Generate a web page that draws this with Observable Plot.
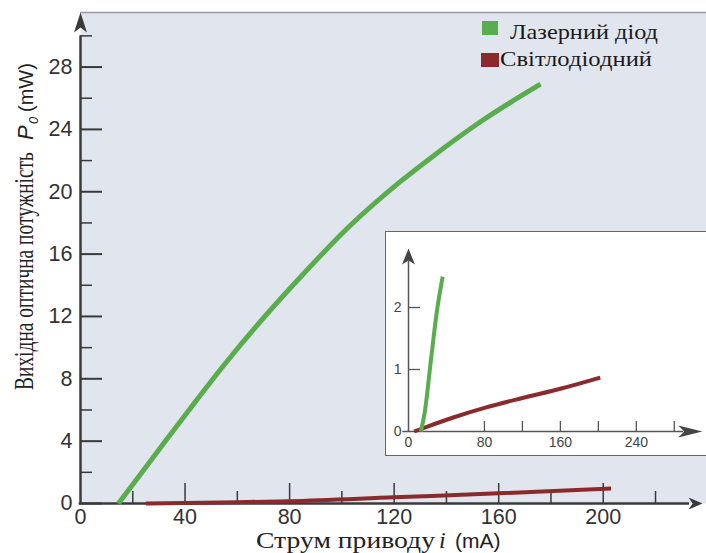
<!DOCTYPE html>
<html><head><meta charset="utf-8">
<script src="https://cdn.jsdelivr.net/npm/d3@7"></script>
<script src="https://cdn.jsdelivr.net/npm/@observablehq/plot@0.6"></script>
<style>
html,body{margin:0;padding:0;background:#fff;}
#wrap{position:relative;width:706px;height:553px;overflow:hidden;}
#wrap svg{display:block;}
</style></head><body><div id="wrap"></div>
<script>
// ---- data ----
const mainXTicks = [0, 40, 80, 120, 160, 200];
const mainXMinor = [20, 60, 100, 140, 180, 220];
const mainYTicks = [0, 4, 8, 12, 16, 20, 24, 28];
const mainYMinor = [2, 6, 10, 14, 18, 22, 26, 30];

const laserCurrent = [14.5, 30, 42, 55, 70, 84, 103, 122, 135, 154, 176];
const laserPower   = [0, 3.45, 6.1, 8.9, 11.9, 14.5, 17.8, 20.6, 22.3, 24.6, 26.9];
const ledCurrent = [25, 40, 60, 80, 120, 160, 203];
const ledPower   = [0, 0.03, 0.08, 0.15, 0.4, 0.65, 0.97];

const insetXLabels = [0, 80, 160, 240];
const insetXTicks = [80, 120, 160, 200, 240, 280];
const insetYTicks = [0, 1, 2];
const insetLaserCurrent = [13, 17, 24, 30, 36];
const insetLaserPower   = [0, 0.3, 1.2, 1.95, 2.5];
const insetLedCurrent = [6, 20, 48, 80, 120, 160, 202];
const insetLedPower   = [0, 0.08, 0.23, 0.38, 0.54, 0.69, 0.87];

const legendLabels = ["Лазерний діод", "Світлодіодний"];
const yTitle = "Вихідна оптична потужність";
const xTitle = "Струм приводу";

// ---- style ----
const green = "#5aad4e", red = "#8b2a2d", axisColor = "#3a3a3a";
const serif = "Liberation Serif, Times New Roman, serif";
const sans = "Liberation Sans, Arial, sans-serif";

const toPts = (xs, ys) => xs.map((x, i) => ({x, y: ys[i]}));
const laser = toPts(laserCurrent, laserPower);
const led = toPts(ledCurrent, ledPower);
const insetLaser = toPts(insetLaserCurrent, insetLaserPower);
const insetLed = toPts(insetLedCurrent, insetLedPower);

function arrowHead(len, wid, notch) {
  return {draw(ctx) {
    ctx.moveTo(0, 0);
    ctx.lineTo(-wid / 2, len);
    ctx.lineTo(0, len - notch);
    ctx.lineTo(wid / 2, len);
    ctx.closePath();
  }};
}

const main = Plot.plot({
  width: 706, height: 553,
  marginLeft: 80, marginRight: 0, marginTop: 12, marginBottom: 50,
  x: {domain: [0, 239.5], axis: null},
  y: {domain: [0, 31.5], axis: null},
  style: {fontFamily: sans, background: "#fff", overflow: "visible"},
  marks: [
    Plot.frame({fill: "#e1e5ed"}),
    Plot.ruleY([31.5], {stroke: "#9a9a9a", strokeWidth: 1.5}),
    Plot.ruleY(mainYTicks, {x1: 0, x2: 0, insetRight: -22, stroke: axisColor, strokeWidth: 2}),
    Plot.ruleY(mainYMinor, {x1: 0, x2: 0, insetRight: -12, stroke: axisColor, strokeWidth: 1.5}),
    Plot.ruleX(mainXTicks.slice(1), {y1: 0, y2: 0, insetTop: -20, stroke: axisColor, strokeWidth: 1.5}),
    Plot.ruleX(mainXMinor, {y1: 0, y2: 0, insetTop: -12, stroke: axisColor, strokeWidth: 1.5}),
    Plot.text(mainXTicks, {x: d => d, y: 0, dy: 14, text: d => String(d), fontSize: 21.5, fill: "#333"}),
    Plot.text(mainYTicks, {x: 0, y: d => d, dx: -8, text: d => String(d), textAnchor: "end", fontSize: 21.5, fill: "#333"}),
    Plot.ruleY([0], {x1: -0.5, x2: 233, stroke: axisColor, strokeWidth: 2.5}),
    Plot.ruleX([0], {y1: 0, y2: 30, stroke: axisColor, strokeWidth: 2.5}),
    Plot.dot([{x: 0, y: 31.5}], {x: "x", y: "y", symbol: arrowHead(20, 13, 5), fill: axisColor, stroke: "none", r: 1}),
    Plot.dot([{x: 238, y: 0}], {x: "x", y: "y", symbol: arrowHead(14, 12, 4), rotate: 90, fill: axisColor, stroke: "none", r: 1}),
    Plot.line(led, {x: "x", y: "y", stroke: red, strokeWidth: 4, curve: "monotone-x", strokeLinecap: "butt"}),
    Plot.line(laser, {x: "x", y: "y", stroke: green, strokeWidth: 5, curve: "monotone-x", strokeLinecap: "butt"})
  ]
});

const svg = d3.select(main);
// y title
const yl = svg.append("text").attr("transform", "translate(33,390) rotate(-90)").attr("fill", "#222").attr("text-anchor", "start");
yl.append("tspan").attr("x", 0).attr("y", 0).attr("font-family", serif).attr("font-size", 27)
  .attr("textLength", 238).attr("lengthAdjust", "spacingAndGlyphs").text(yTitle);
yl.append("tspan").attr("x", 250).attr("y", 0).attr("font-family", sans).attr("font-style", "italic").attr("font-size", 22).text("P");
yl.append("tspan").attr("x", 266).attr("y", 5).attr("font-family", sans).attr("font-style", "italic").attr("font-size", 13).text("0");
yl.append("tspan").attr("x", 278).attr("y", 0).attr("font-family", sans).attr("font-size", 20).text("(mW)");
// x title
const xl = svg.append("text").attr("fill", "#222").attr("text-anchor", "start");
xl.append("tspan").attr("x", 256).attr("y", 548).attr("font-family", serif).attr("font-size", 24)
  .attr("textLength", 179).attr("lengthAdjust", "spacingAndGlyphs").text(xTitle);
xl.append("tspan").attr("x", 439).attr("y", 548).attr("font-family", serif).attr("font-style", "italic").attr("font-size", 24).text("i");
xl.append("tspan").attr("x", 455).attr("y", 548).attr("font-family", sans).attr("font-size", 21).text("(mA)");
// legend
const lg = svg.append("g").attr("text-anchor", "start");
lg.append("rect").attr("x", 482).attr("y", 21).attr("width", 16).attr("height", 14).attr("fill", green);
lg.append("text").attr("x", 510).attr("y", 39).attr("font-family", serif).attr("font-size", 22).attr("fill", "#1a1a1a")
  .attr("textLength", 148).attr("lengthAdjust", "spacingAndGlyphs").text(legendLabels[0]);
lg.append("rect").attr("x", 481).attr("y", 53).attr("width", 18).attr("height", 14).attr("fill", red);
lg.append("text").attr("x", 500).attr("y", 66).attr("font-family", serif).attr("font-size", 22).attr("fill", "#1a1a1a")
  .attr("textLength", 152).attr("lengthAdjust", "spacingAndGlyphs").text(legendLabels[1]);

document.getElementById("wrap").appendChild(main);

// ---- inset ----
const inset = Plot.plot({
  width: 321, height: 223,
  marginLeft: 22, marginRight: 0, marginTop: 0, marginBottom: 24,
  x: {domain: [0, 315], axis: null},
  y: {domain: [0, 3.21], axis: null},
  style: {fontFamily: sans, background: "#fff", overflow: "visible"},
  marks: [
    Plot.ruleX(insetXTicks, {y1: 0, y2: 0, insetTop: -10, stroke: "#555", strokeWidth: 1.3}),
    Plot.ruleY(insetYTicks.slice(1), {x1: 0, x2: 0, insetRight: -12, stroke: "#555", strokeWidth: 1.3}),
    Plot.text(insetXLabels, {x: d => d, y: 0, dy: 11, text: d => String(d), fontSize: 14, fill: "#444"}),
    Plot.text(insetYTicks, {x: 0, y: d => d, dx: -7, text: d => String(d), textAnchor: "end", fontSize: 14, fill: "#444"}),
    Plot.ruleY([0], {x1: -6, x2: 290, stroke: "#555", strokeWidth: 1.5}),
    Plot.ruleX([0], {y1: 0, y2: 2.75, stroke: "#555", strokeWidth: 1.5}),
    Plot.dot([{x: 0, y: 2.95}], {x: "x", y: "y", symbol: arrowHead(16, 13, 4), fill: "#444", stroke: "none", r: 1}),
    Plot.dot([{x: 309.5, y: 0}], {x: "x", y: "y", symbol: arrowHead(24, 12, 6), rotate: 90, fill: "#444", stroke: "none", r: 1}),
    Plot.line(insetLed, {x: "x", y: "y", stroke: red, strokeWidth: 4, curve: "monotone-x", strokeLinecap: "butt"}),
    Plot.line(insetLaser, {x: "x", y: "y", stroke: green, strokeWidth: 4, curve: "monotone-x", strokeLinecap: "butt"})
  ]
});
inset.style.position = "absolute";
inset.style.left = "386px";
inset.style.top = "232px";
inset.style.outline = "1.5px solid #666";
document.getElementById("wrap").appendChild(inset);
</script></body></html>
